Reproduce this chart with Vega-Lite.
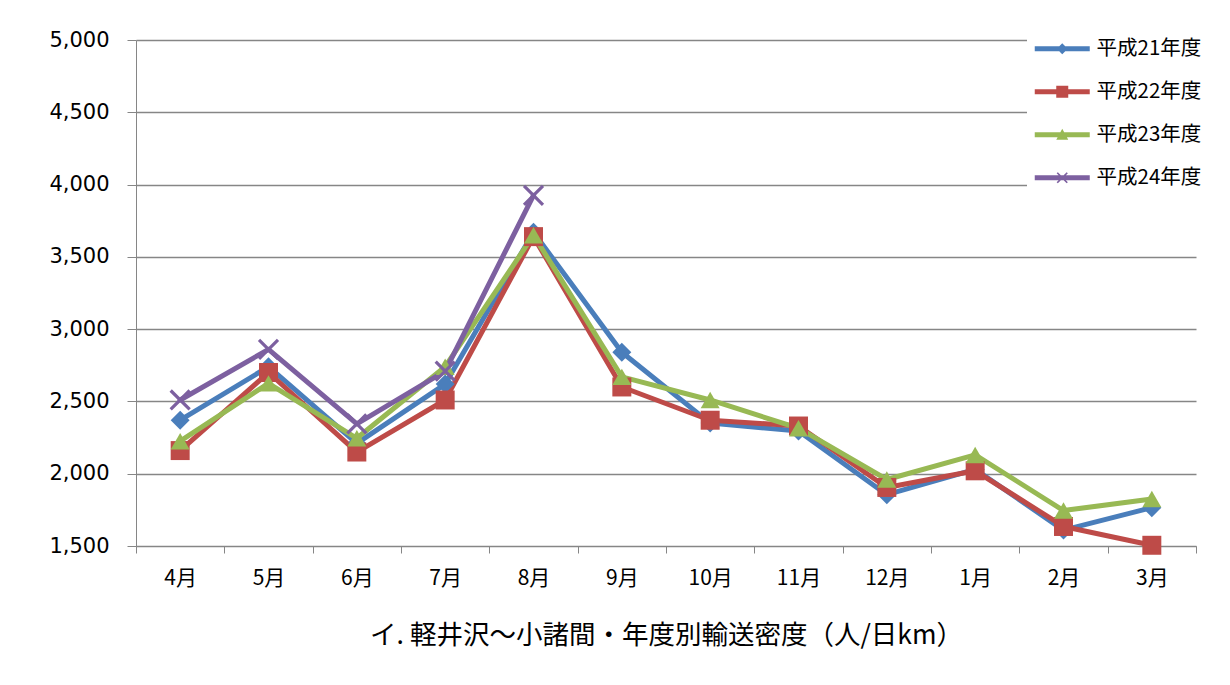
{
  "$schema": "https://vega.github.io/schema/vega-lite/v6.json",
  "width": 1060,
  "height": 506,
  "autosize": {"type": "none"},
  "padding": {"left": 136, "top": 40, "right": 34, "bottom": 139},
  "background": "white",
  "config": {
    "view": {"stroke": null},
    "font": "Noto Sans CJK JP"
  },
  "data": {
    "values": [
      {"year": "平成21年度", "month": "4月", "value": 2370},
      {"year": "平成21年度", "month": "5月", "value": 2740},
      {"year": "平成21年度", "month": "6月", "value": 2210},
      {"year": "平成21年度", "month": "7月", "value": 2620},
      {"year": "平成21年度", "month": "8月", "value": 3670},
      {"year": "平成21年度", "month": "9月", "value": 2840},
      {"year": "平成21年度", "month": "10月", "value": 2350},
      {"year": "平成21年度", "month": "11月", "value": 2295},
      {"year": "平成21年度", "month": "12月", "value": 1855},
      {"year": "平成21年度", "month": "1月", "value": 2030},
      {"year": "平成21年度", "month": "2月", "value": 1610},
      {"year": "平成21年度", "month": "3月", "value": 1765},
      {"year": "平成22年度", "month": "4月", "value": 2160},
      {"year": "平成22年度", "month": "5月", "value": 2700},
      {"year": "平成22年度", "month": "6月", "value": 2150},
      {"year": "平成22年度", "month": "7月", "value": 2510},
      {"year": "平成22年度", "month": "8月", "value": 3640},
      {"year": "平成22年度", "month": "9月", "value": 2600},
      {"year": "平成22年度", "month": "10月", "value": 2370},
      {"year": "平成22年度", "month": "11月", "value": 2330},
      {"year": "平成22年度", "month": "12月", "value": 1905},
      {"year": "平成22年度", "month": "1月", "value": 2020},
      {"year": "平成22年度", "month": "2月", "value": 1635},
      {"year": "平成22年度", "month": "3月", "value": 1505},
      {"year": "平成23年度", "month": "4月", "value": 2225},
      {"year": "平成23年度", "month": "5月", "value": 2625},
      {"year": "平成23年度", "month": "6月", "value": 2245},
      {"year": "平成23年度", "month": "7月", "value": 2740},
      {"year": "平成23年度", "month": "8月", "value": 3650},
      {"year": "平成23年度", "month": "9月", "value": 2670},
      {"year": "平成23年度", "month": "10月", "value": 2510},
      {"year": "平成23年度", "month": "11月", "value": 2315},
      {"year": "平成23年度", "month": "12月", "value": 1960},
      {"year": "平成23年度", "month": "1月", "value": 2130},
      {"year": "平成23年度", "month": "2月", "value": 1745},
      {"year": "平成23年度", "month": "3月", "value": 1825},
      {"year": "平成24年度", "month": "4月", "value": 2510},
      {"year": "平成24年度", "month": "5月", "value": 2860},
      {"year": "平成24年度", "month": "6月", "value": 2345},
      {"year": "平成24年度", "month": "7月", "value": 2710},
      {"year": "平成24年度", "month": "8月", "value": 3925}
    ]
  },
  "encoding": {
    "x": {
      "field": "month",
      "type": "nominal",
      "sort": ["4月", "5月", "6月", "7月", "8月", "9月", "10月", "11月", "12月", "1月", "2月", "3月"],
      "bandPosition": 0.5,
      "scale": {"type": "band", "paddingInner": 0, "paddingOuter": 0},
      "axis": {
        "title": "イ. 軽井沢～小諸間・年度別輸送密度（人/日km）",
        "titleFont": "Noto Sans CJK JP",
        "titleFontSize": 26.5,
        "titleFontWeight": "normal",
        "titleColor": "#000000",
        "titlePadding": 34,
        "labelAngle": 0,
        "labelFont": "Noto Sans CJK JP",
        "labelFontSize": 21,
        "labelColor": "#000000",
        "labelPadding": 14,
        "tickBand": "extent",
        "tickSize": 7,
        "tickColor": "#868686",
        "domainColor": "#868686",
        "grid": false
      }
    },
    "y": {
      "field": "value",
      "type": "quantitative",
      "scale": {"domain": [1500, 5000], "nice": false, "zero": false},
      "axis": {
        "title": null,
        "values": [1500, 2000, 2500, 3000, 3500, 4000, 4500, 5000],
        "labelExpr": "floor(datum.value / 1000) + ',' + (datum.value % 1000 == 0 ? '000' : '500')",
        "labelFont": "DejaVu Sans",
        "labelFontSize": 21,
        "labelColor": "#000000",
        "labelPadding": 18,
        "tickSize": 9,
        "tickColor": "#868686",
        "domainColor": "#868686",
        "gridColor": "#868686",
        "gridWidth": 1.3
      }
    }
  },
  "resolve": {"scale": {"shape": "independent", "color": "independent"}},
  "layer": [
    {
      "mark": {"type": "line", "strokeWidth": 5, "strokeJoin": "round", "strokeCap": "round"},
      "encoding": {
        "color": {
          "field": "year",
          "type": "nominal",
          "legend": null,
          "scale": {
            "domain": ["平成21年度", "平成22年度", "平成23年度", "平成24年度"],
            "range": ["#4A7EBB", "#BE4B48", "#98B954", "#7D60A0"]
          }
        },
        "order": {"field": "year"}
      }
    },
    {
      "mark": {"type": "point", "filled": true, "opacity": 1, "size": 360},
      "encoding": {
        "color": {
          "field": "year",
          "type": "nominal",
          "legend": null,
          "scale": {
            "domain": ["平成21年度", "平成22年度", "平成23年度", "平成24年度"],
            "range": ["#4A7EBB", "#BE4B48", "#98B954", "#7D60A0"]
          }
        },
        "shape": {
          "field": "year",
          "type": "nominal",
          "legend": null,
          "scale": {
            "domain": ["平成21年度", "平成22年度", "平成23年度", "平成24年度"],
            "range": [
              "diamond",
              "square",
              "triangle-up",
              "M-0.88,-1.12L1.12,0.88L0.88,1.12L-1.12,-0.88Z M-1.12,0.88L0.88,-1.12L1.12,-0.88L-0.88,1.12Z"
            ]
          }
        }
      }
    },
    {
      "mark": {"type": "point", "filled": true, "opacity": 1, "size": 0},
      "encoding": {
        "color": {
          "field": "year",
          "type": "nominal",
          "scale": {
            "domain": ["平成21年度", "平成22年度", "平成23年度", "平成24年度"],
            "range": ["#4A7EBB", "#BE4B48", "#98B954", "#7D60A0"]
          },
          "legend": {
            "title": null,
            "orient": "none",
            "legendX": 891,
            "legendY": -26.5,
            "padding": 25,
            "fillColor": "white",
            "symbolSize": 400,
            "symbolOpacity": 1,
            "symbolStrokeWidth": 0,
            "rowPadding": 22,
            "labelOffset": 24,
            "labelFont": "Noto Sans CJK JP",
            "labelFontSize": 20.5,
            "labelColor": "#000000",
            "labelLimit": 300
          }
        },
        "shape": {
          "field": "year",
          "type": "nominal",
          "scale": {
            "domain": ["平成21年度", "平成22年度", "平成23年度", "平成24年度"],
            "range": [
              "M-2.75,-0.25H2.75V0.25H-2.75Z M0,-0.55L0.55,0L0,0.55L-0.55,0Z",
              "M-2.75,-0.25H2.75V0.25H-2.75Z M-0.6,-0.6H0.6V0.6H-0.6Z",
              "M-2.75,-0.25H2.75V0.25H-2.75Z M0,-0.6L0.6,0.5H-0.6Z",
              "M-2.75,-0.25H2.75V0.25H-2.75Z M-0.44,-0.56L0.56,0.44L0.44,0.56L-0.56,-0.44Z M-0.56,0.44L0.44,-0.56L0.56,-0.44L-0.44,0.56Z"
            ]
          },
          "legend": {
            "title": null,
            "orient": "none",
            "legendX": 891,
            "legendY": -26.5,
            "padding": 25,
            "fillColor": "white",
            "symbolSize": 400,
            "symbolOpacity": 1,
            "symbolStrokeWidth": 0,
            "rowPadding": 22,
            "labelOffset": 24,
            "labelFont": "Noto Sans CJK JP",
            "labelFontSize": 20.5,
            "labelColor": "#000000",
            "labelLimit": 300
          }
        }
      }
    }
  ]
}
